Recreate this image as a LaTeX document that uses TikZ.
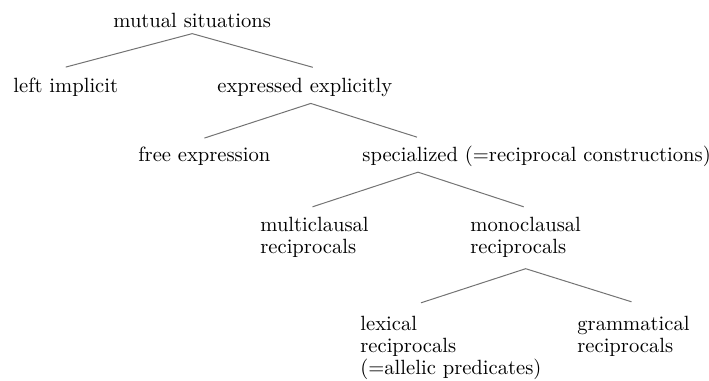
\documentclass[tikz,border=0pt]{standalone}
\usepackage{tikz}

\begin{document}
\begin{tikzpicture}[
    label_style/.style={inner sep=0pt, anchor=base west, font=\fontsize{10.3}{11}\selectfont},
    stack_style/.style={label_style, anchor=north west, align=left},
    branch_style/.style={draw=black!55, line width=0.5pt}
]
\useasboundingbox (0,0) rectangle (354.5pt,-190.5pt);

% Root node
\node[label_style] (mutual) at (56.5pt,-13.5pt) {mutual situations};

% Level 1
\node[label_style] (implicit) at (6.5pt,-46pt) {left implicit};
\node[label_style] (explicit) at (108.5pt,-46pt) {expressed explicitly};

% Level 2
\node[label_style] (free) at (69pt,-80.5pt) {free expression};
\node[label_style] (special) at (181pt,-80.5pt) {specialized (=reciprocal constructions)};

% Level 3
\node[stack_style] (multi) at (130pt,-108.4pt) {multiclausal\\reciprocals};
\node[stack_style] (mono) at (235pt,-108.4pt) {monoclausal\\reciprocals};

% Level 4
\node[stack_style] (lexical) at (180pt,-157.9pt) {lexical\\reciprocals\\(=allelic predicates)};
\node[stack_style] (gram) at (288.5pt,-157.9pt) {grammatical\\reciprocals};

% Branches from mutual situations
\draw[branch_style] ([yshift=5pt]implicit.north) -- ([yshift=-3pt]mutual.south) -- ([xshift=4pt,yshift=5pt]explicit.north);

% Branches from expressed explicitly
\draw[branch_style] ([yshift=4pt]free.north) -- ([xshift=3pt,yshift=-3.4pt]explicit.south) -- ([xshift=27.5pt,yshift=4pt]special.north west);

% Branches from specialized
\draw[branch_style] ([xshift=-1pt,yshift=5pt]multi.north) -- ([xshift=28pt,yshift=-2.8pt]special.south west) -- ([xshift=-1pt,yshift=5pt]mono.north);

% Branches from monoclausal reciprocals
\draw[branch_style] ([xshift=30.5pt,yshift=6.5pt]lexical.north west) -- ([yshift=-5.4pt]mono.south) -- ([xshift=-1pt,yshift=7pt]gram.north);

\end{tikzpicture}
\end{document}
